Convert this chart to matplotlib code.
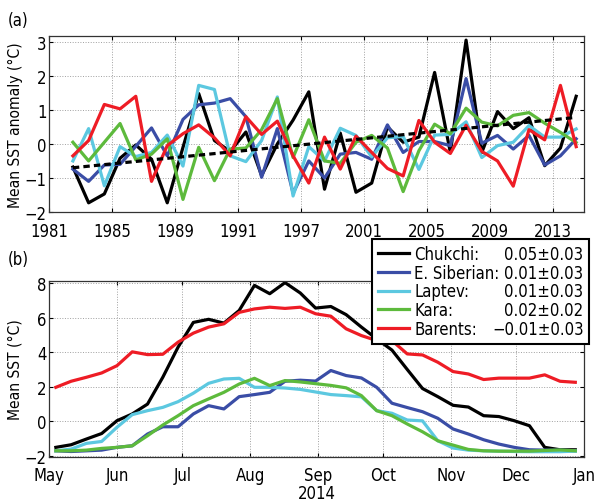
import numpy as np
import pandas as pd
import matplotlib
matplotlib.use("Agg")
import matplotlib.pyplot as plt
from matplotlib import font_manager
from matplotlib.lines import Line2D
from matplotlib.patches import Rectangle

# look for a narrow / condensed sans face
fonts = font_manager.fontManager.ttflist
narrow = [f for f in fonts
          if ('Narrow' in f.name or 'Condensed' in f.name or f.stretch in ('condensed', 'semi-condensed'))
          and 'Mono' not in f.name and 'Serif' not in f.name and f.weight in (400, 'normal', 'regular')]
if narrow:
    f0 = narrow[0]
    plt.rcParams['font.family'] = [f0.name, 'DejaVu Sans']
    plt.rcParams['font.stretch'] = f0.stretch
    fs = 12
else:
    plt.rcParams['font.family'] = ['Liberation Sans', 'DejaVu Sans']
    fs = 11.5
plt.rcParams['font.size'] = fs
lab_fs = fs - 0.8

# ---- data (a): annual SST anomaly, 1982-2014
years = np.arange(1982, 2015)
chukchi_a = [-0.68, -1.73, -1.47, -0.42, -0.03, -0.45, -1.73, -0.1, 1.48, 0.1, -0.22,
             0.35, -0.93, 0.0, 0.7, 1.53, -1.33, 0.32, -1.42, -1.15, 0.5, 0.05,
             0.2, 2.1, -0.25, 3.05, -0.25, 0.95, 0.45, 0.77, -0.64, -0.12, 1.4]
esib_a = [-0.74, -1.1, -0.62, -0.6, -0.07, 0.47, -0.35, 0.72, 1.15, 1.2, 1.33,
          0.8, -0.98, 0.45, -1.45, -0.5, -1.0, -0.3, -0.25, -0.45, 0.56, -0.25,
          0.07, 0.07, -0.05, 1.92, 0.02, 0.25, -0.15, 0.25, -0.62, -0.35, 0.15]
laptev_a = [-0.5, 0.45, -1.23, -0.08, -0.37, -0.25, 0.26, -0.65, 1.72, 1.6, -0.35,
            -0.52, 0.1, 1.38, -1.53, -0.08, -0.5, 0.46, 0.25, -0.38, 0.18, 0.22,
            -0.75, 0.26, 0.28, 0.65, -0.4, -0.05, 0.05, 0.54, 0.2, 0.2, 0.44]
kara_a = [0.05, -0.5, 0.05, 0.6, -0.47, -0.3, 0.15, -1.63, -0.1, -1.08, -0.15,
          -0.12, 0.42, 1.33, -0.4, 0.71, -0.5, -0.57, 0.05, 0.25, -0.12, -1.4,
          -0.2, 0.58, 0.3, 1.05, 0.64, 0.53, 0.84, 0.92, 0.61, 0.34, 0.04]
barents_a = [-0.35, 0.1, 1.16, 1.03, 1.4, -1.1, -0.05, 0.3, 0.56, 0.18, -0.35,
             0.8, 0.28, 0.67, -0.35, -1.15, 0.2, -0.74, 0.23, -0.25, -0.72, -0.94,
             0.69, 0.05, -0.28, 0.55, -0.22, -0.5, -1.24, 0.42, 0.12, 1.72, -0.08]
trend_years = [1982, 2014]
trend_vals = [-0.7, 0.78]

xtick_years = [1981, 1985, 1989, 1993, 1997, 2001, 2005, 2009, 2013]
xtick_labels = ['1981', '1985', '1989', '1991', '1997', '2001', '2005', '2009', '2013']

# ---- data (b): weekly SST, 2014
dates = pd.date_range('2014-05-04', periods=35, freq='7D')
chukchi_b = [-1.5, -1.35, -1.02, -0.7, 0.04, 0.43, 1.0, 2.55, 4.29, 5.72, 5.9, 5.68,
             6.41, 7.86, 7.38, 8.02, 7.42, 6.55, 6.64, 6.17, 5.45, 4.77, 4.12, 3.0,
             1.9, 1.43, 0.93, 0.83, 0.33, 0.28, 0.04, -0.25, -1.5, -1.64, -1.64]
esib_b = [-1.7, -1.74, -1.7, -1.66, -1.5, -1.41, -0.73, -0.31, -0.31, 0.43, 0.91, 0.72,
          1.43, 1.55, 1.68, 2.32, 2.38, 2.33, 2.94, 2.65, 2.51, 1.97, 1.05, 0.8,
          0.56, 0.18, -0.44, -0.73, -1.06, -1.31, -1.5, -1.64, -1.66, -1.66, -1.7]
laptev_b = [-1.7, -1.6, -1.27, -1.16, -0.34, 0.39, 0.62, 0.81, 1.14, 1.63, 2.2, 2.45,
            2.49, 1.97, 1.97, 1.93, 1.85, 1.7, 1.55, 1.49, 1.42, 0.62, 0.47, 0.08,
            0.03, -1.12, -1.54, -1.66, -1.7, -1.72, -1.74, -1.75, -1.75, -1.75, -1.72]
kara_b = [-1.7, -1.7, -1.66, -1.56, -1.5, -1.41, -0.83, -0.21, 0.33, 0.91, 1.3, 1.68,
          2.16, 2.49, 2.07, 2.36, 2.28, 2.18, 2.08, 1.94, 1.49, 0.62, 0.33, -0.15,
          -0.6, -1.12, -1.37, -1.62, -1.7, -1.72, -1.72, -1.72, -1.68, -1.65, -1.7]
barents_b = [1.97, 2.32, 2.55, 2.8, 3.22, 4.02, 3.86, 3.88, 4.58, 5.1, 5.45, 5.64,
             6.3, 6.5, 6.6, 6.53, 6.6, 6.22, 6.08, 5.35, 4.96, 4.67, 4.67, 3.9,
             3.84, 3.42, 2.88, 2.74, 2.42, 2.5, 2.5, 2.5, 2.69, 2.32, 2.26]

month_ticks = pd.date_range('2014-05-01', '2015-01-01', freq='MS')
month_labels = ['May', 'Jun', 'Jul', 'Aug', 'Sep', 'Oct', 'Nov', 'Dec', 'Jan']

names = ['Chukchi:', 'E. Siberian:', 'Laptev:', 'Kara:', 'Barents:']
trends = ['0.05\u00b10.03', '0.01\u00b10.03', '0.01\u00b10.03', '0.02\u00b10.02', '\u22120.01\u00b10.03']
colors = ['#000000', '#3A4DA6', '#5CC8E0', '#5DBA3C', '#EE1C25']

series_a = [chukchi_a, esib_a, laptev_a, kara_a, barents_a]
series_b = [chukchi_b, esib_b, laptev_b, kara_b, barents_b]
lw = 2.3

fig = plt.figure(figsize=(5.99, 5.02), dpi=100)
ax1 = fig.add_axes([0.0823, 0.5757, 0.8927, 0.3512])
ax2 = fig.add_axes([0.0823, 0.0886, 0.8927, 0.3502])

# annual means plotted at mid-year
for s, c in zip(series_a, colors):
    ax1.plot(years + 0.5, s, color=c, lw=lw)
ax1.plot(np.array(trend_years) + 0.5, trend_vals, color='k', lw=lw, dashes=(2, 1.3))
ax1.set_xlim(1981, 2015)
ax1.set_ylim(-2, 3.18)
ax1.set_xticks(xtick_years)
ax1.set_xticklabels(xtick_labels)
ax1.set_yticks([-2, -1, 0, 1, 2, 3])
ax1.set_ylabel('Mean SST anomaly (\u00b0C)', fontsize=lab_fs)

for s, c in zip(series_b, colors):
    ax2.plot(dates, s, color=c, lw=lw)
ax2.set_xlim(month_ticks[0], month_ticks[-1])
ax2.set_ylim(-2.03, 8.13)
ax2.set_xticks(month_ticks)
ax2.set_xticklabels(month_labels)
ax2.set_yticks([-2, 0, 2, 4, 6, 8])
ax2.set_ylabel('Mean SST (\u00b0C)', fontsize=lab_fs)
ax2.set_xlabel('2014')
ax2.xaxis.set_label_coords(0.5, -0.155)

for ax in (ax1, ax2):
    ax.grid(True, linestyle=':', color='#a0a0a0', lw=0.7)
    ax.tick_params(direction='in', top=True, right=True, length=3, width=0.8)
    ax.tick_params(axis='x', pad=7)
    ax.tick_params(axis='y', pad=2)
    # label anchor is the right edge of the rotated text
    ax.yaxis.set_label_coords(-0.05, 0.5)
    for sp in ax.spines.values():
        sp.set_color('#333333')
        sp.set_linewidth(0.9)

fig.text(0.013, 0.958, '(a)', fontsize=fs, va='center')
fig.text(0.013, 0.483, '(b)', fontsize=fs, va='center')

# legend: names on the left, trend values right-aligned
handles = [Line2D([], [], color=c, lw=lw) for c in colors]
full = [n + ' ' + t for n, t in zip(names, trends)]
leg = fig.legend(handles, full, loc='upper right', bbox_to_anchor=(0.984, 0.522),
                 frameon=True, fancybox=False, borderaxespad=0, borderpad=0.35,
                 labelspacing=0.05, handlelength=1.9, handletextpad=0.3)
leg.set_zorder(5)
fig.canvas.draw()
r = fig.canvas.get_renderer()
inv = fig.transFigure.inverted()
fb = leg.get_frame().get_window_extent(r)
tbs = [t.get_window_extent(r) for t in leg.get_texts()]
x_left = tbs[0].x0
right = max(b.x1 for b in tbs)
for t, b, n, v in zip(leg.get_texts(), tbs, names, trends):
    t.set_visible(False)
    x, y = inv.transform((x_left, (b.y0 + b.y1) / 2))
    fig.text(x, y, n, ha='left', va='center', fontsize=fs, zorder=6)
    x, y = inv.transform((right, (b.y0 + b.y1) / 2))
    fig.text(x, y, v, ha='right', va='center', fontsize=fs, zorder=6)
leg.set_frame_on(False)
(x0, y0), (x1, y1) = inv.transform([(fb.x0, fb.y0), (fb.x1, fb.y1)])
fig.patches.append(Rectangle((x0, y0), x1 - x0, y1 - y0, transform=fig.transFigure,
                             facecolor='white', edgecolor='k', lw=1.5, zorder=4))

plt.savefig('out.png', dpi=100)
